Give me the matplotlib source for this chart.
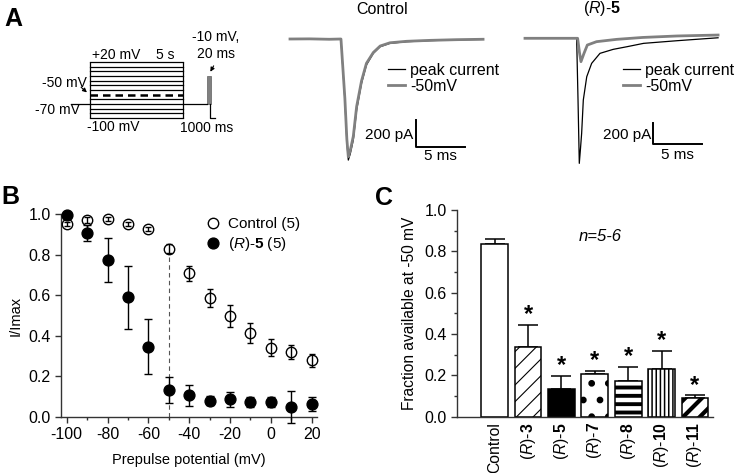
import matplotlib
matplotlib.use('Agg')
import matplotlib.pyplot as plt
from matplotlib.ticker import MultipleLocator, FormatStrFormatter
from matplotlib.patches import Rectangle

plt.rcParams['font.family'] = ['Liberation Sans', 'DejaVu Sans']
plt.rcParams['mathtext.fontset'] = 'custom'
plt.rcParams['mathtext.rm'] = 'Liberation Sans'
plt.rcParams['mathtext.it'] = 'Liberation Sans:italic'
plt.rcParams['mathtext.bf'] = 'Liberation Sans:bold'
plt.rcParams['axes.unicode_minus'] = False

# ---- panel A: protocol ----
prepulse_mV = [-100, -90, -80, -70, -60, -50, -40, -30, -20, -10, 0, 10, 20]
holding_mV = -70
test_mV = -10

# ---- panel A: current traces (ms, pA) ----
ctrl_t = [0, 2, 4, 5.2, 5.6, 5.8, 5.95, 6.15, 6.46, 6.8, 7.3, 7.8, 8.5, 9.2, 10.2, 11.9, 14.3, 17, 19.7]
ctrl_peak = [0, 2, -3, 0, -451, -760, -896, -850, -747, -525, -328, -192, -106, -57, -32, -20, -12, -6, -3]
ctrl_50 = [0, 1, -2, 0, -440, -740, -871, -825, -720, -500, -310, -180, -100, -52, -28, -17, -10, -5, -2]

r5_t_peak = [0, 3, 5.27, 5.41, 5.54, 5.66, 5.78, 5.95, 6.3, 6.8, 7.65, 9.0, 10.4, 12.1, 15.5, 19.7]
r5_peak = [0, 0, 0, -586, -1188, -1050, -903, -586, -365, -238, -143, -105, -80, -48, -23, 5]
r5_t_50 = [0, 3, 5.37, 5.55, 5.71, 6.02, 6.36, 7.3, 9.36, 12, 15.5, 19.7]
r5_50 = [0, 0, 0, -130, -222, -143, -64, -32, -10, 8, 22, 31]

# ---- panel B ----
prepulse = [-100, -90, -80, -70, -60, -50, -40, -30, -20, -10, 0, 10, 20]
ctrl = [0.952, 0.972, 0.977, 0.951, 0.928, 0.830, 0.708, 0.588, 0.497, 0.412, 0.341, 0.320, 0.280]
ctrl_err = [0.01, 0.015, 0.012, 0.01, 0.01, 0.022, 0.038, 0.045, 0.055, 0.05, 0.042, 0.035, 0.032]
r5 = [0.997, 0.906, 0.774, 0.590, 0.346, 0.132, 0.105, 0.079, 0.086, 0.071, 0.071, 0.049, 0.063]
r5_err = [0.0, 0.04, 0.11, 0.155, 0.137, 0.064, 0.052, 0.022, 0.037, 0.025, 0.025, 0.08, 0.036]

# ---- panel C ----
compounds = ['Control', r'($\it{R}$)-$\bf{3}$', r'($\it{R}$)-$\bf{5}$', r'($\it{R}$)-$\bf{7}$',
             r'($\it{R}$)-$\bf{8}$', r'($\it{R}$)-$\bf{10}$', r'($\it{R}$)-$\bf{11}$']
frac = [0.834, 0.339, 0.135, 0.206, 0.171, 0.232, 0.089]
frac_err = [0.027, 0.106, 0.063, 0.016, 0.068, 0.087, 0.014]
hatches = ['', '//', '', '.', '--', '||||', '//']
hatch_lw = [1, 0.8, 1, 2.4, 2.8, 1.1, 3.0]
fills = ['white', 'white', 'black', 'white', 'white', 'white', 'white']

W, H = 739, 473
fig = plt.figure(figsize=(W / 100, H / 100), dpi=100)


def px_axes(x0, y0, x1, y1):
    return fig.add_axes([x0 / W, 1 - y1 / H, (x1 - x0) / W, (y1 - y0) / H])


def px_text(x, y, s, **kw):
    fig.text(x / W, 1 - y / H, s, **kw)


px_text(4, 19, 'A', fontsize=18, fontweight='bold', va='center')
px_text(1, 197, 'B', fontsize=18, fontweight='bold', va='center')
px_text(375, 198, 'C', fontsize=18, fontweight='bold', va='center')

# protocol schematic
sch = px_axes(0, 20, 280, 140)
sch.set_xlim(0, 280)
sch.set_ylim(-147, 110)
sch.axis('off')
on, off = 90, 183
for v in prepulse_mV:
    if v == -50:
        sch.plot([on, off], [v, v], color='black', lw=1.8, ls=(0, (3, 2)))
    else:
        sch.plot([on, off], [v, v], color='black', lw=0.9)
sch.vlines([on, off], min(prepulse_mV), max(prepulse_mV), color='black', lw=0.9)
sch.plot([71, on], [holding_mV, holding_mV], color='black', lw=0.9)
sch.plot([off, 207], [holding_mV, holding_mV], color='black', lw=0.9)
sch.add_patch(Rectangle((207, holding_mV), 4, test_mV - holding_mV, fc='#808080', ec='#606060', lw=0.5))
sch.plot([210, 210, 215], [holding_mV, min(prepulse_mV), min(prepulse_mV)], color='black', lw=0.9)
fs = 10
sch.text(92, 35, '+20 mV', fontsize=fs, va='center')
sch.text(174, 35, '5 s', fontsize=fs, va='center', ha='right')
sch.text(87, -25, '-50 mV', fontsize=fs, va='center', ha='right')
sch.text(80, -83, '-70 mV', fontsize=fs, va='center', ha='right')
sch.text(87, -119, '-100 mV', fontsize=fs, va='center')
sch.text(192, 73, '-10 mV,', fontsize=fs, va='center')
sch.text(197, 37, '20 ms', fontsize=fs, va='center')
sch.text(180, -121, '1000 ms', fontsize=fs, va='center')
sch.annotate('', xy=(89, -49), xytext=(79, -30),
             arrowprops=dict(arrowstyle='-|>', lw=0.8, color='black', mutation_scale=6))
sch.annotate('', xy=(209, -6), xytext=(215, 17),
             arrowprops=dict(arrowstyle='-|>', lw=0.8, color='black', mutation_scale=6))


def trace_panel(ax, t_peak, i_peak, t_50, i_50, sb_t, sb_i):
    ax.plot(t_peak, i_peak, color='black', lw=0.9, label='peak current')
    ax.plot(t_50, i_50, color='#808080', lw=2.0, label='-50mV')
    ax.plot([sb_t, sb_t, sb_t + 5], [sb_i + 200, sb_i, sb_i], color='black', lw=1.4)
    ax.axis('off')
    ax.legend(frameon=False, loc='upper left', bbox_to_anchor=(0.5, 0.715), fontsize=11.5,
              handlelength=1.1, handletextpad=0.3, labelspacing=0.05, borderpad=0, borderaxespad=0)


# control traces
ax1 = px_axes(285, 20, 490, 170)
ax1.set_xlim(-5 / 9.8, 200 / 9.8)
ax1.set_ylim(-131 * 7.4, 19 * 7.4)
trace_panel(ax1, ctrl_t, ctrl_peak, ctrl_t, ctrl_50, 12.86, -799)
ax1.text(12.6, -710, '200 pA', ha='right', va='center', fontsize=11)
ax1.text(15.36, -866, '5 ms', ha='center', va='center', fontsize=11)
px_text(382, 9, 'Control', ha='center', va='center', fontsize=11.5)

ax2 = px_axes(520, 20, 725, 170)
ax2.set_xlim(-5 / 9.8, 200 / 9.8)
ax2.set_ylim(-131.7 * 9.5, 18.3 * 9.5)
trace_panel(ax2, r5_t_peak, r5_peak, r5_t_50, r5_50, 13.1, -1005)
ax2.text(12.9, -919, '200 pA', ha='right', va='center', fontsize=11)
ax2.text(15.6, -1108, '5 ms', ha='center', va='center', fontsize=11)
px_text(602, 9, r'($\it{R}$)-$\bf{5}$', ha='center', va='center', fontsize=11.5)

# ---- panel B ----
axb = px_axes(61, 214.3, 317, 416.7)
e1 = axb.errorbar(prepulse, ctrl, yerr=ctrl_err, fmt='o', mfc='none', mec='black', ms=7.5,
                  mew=1.0, color='black', ecolor='black', elinewidth=1.0, capsize=2.5, capthick=1.0,
                  clip_on=False, zorder=3)
e2 = axb.errorbar(prepulse, r5, yerr=r5_err, fmt='o', mfc='black', mec='black', ms=7.8,
                  color='black', ecolor='black', elinewidth=1.0, capsize=3, capthick=1.0,
                  clip_on=False, zorder=3)
for c in (e1, e2):
    for art in c.lines[1] + c.lines[2]:
        art.set_clip_on(False)
axb.vlines(-50, 0, ctrl[5] - ctrl_err[5], color='#555555', lw=0.8, ls=(0, (4, 3)))
axb.set_xlim(-102.8, 22.6)
axb.set_ylim(0, 1.0)
axb.xaxis.set_major_locator(MultipleLocator(20))
axb.xaxis.set_minor_locator(MultipleLocator(10))
axb.yaxis.set_major_locator(MultipleLocator(0.2))
axb.yaxis.set_major_formatter(FormatStrFormatter('%.1f'))
axb.set_xlabel('Prepulse potential (mV)', fontsize=10.5, labelpad=8)
axb.set_ylabel('I/Imax', fontsize=10.5, labelpad=4)
axb.legend([e1[0], e2[0]], ['Control (5)', r'($\it{R}$)-$\bf{5}$ (5)'], frameon=False, numpoints=1,
           loc='upper left', bbox_to_anchor=(0.563, 0.985), fontsize=11, handlelength=1.0,
           handletextpad=0.5, labelspacing=0.25, borderpad=0, borderaxespad=0)

# ---- panel C ----
axc = px_axes(457, 210, 713, 416.7)
pos = list(range(len(frac)))
bars = axc.bar(pos, frac, width=0.8, color=fills, edgecolor='black', linewidth=1.1, zorder=2)
for b, h, hl in zip(bars, hatches, hatch_lw):
    if h:
        b.set_hatch(h)
        try:
            b.set_hatch_linewidth(hl)
        except AttributeError:
            pass
axc.errorbar(pos, frac, yerr=[[0] * len(frac_err), frac_err], fmt='none', ecolor='black',
             elinewidth=1.1, capsize=7, capthick=1.1, zorder=1)
for x, f, e in zip(pos[1:], frac[1:], frac_err[1:]):
    axc.text(x, f + e + 0.05, '*', ha='center', va='center', fontsize=17, fontweight='bold')
axc.text(0.56, 0.87, 'n=5-6', transform=axc.transAxes, ha='center', va='center',
         fontsize=12, style='italic')
axc.set_xlim(-1.13, 6.54)
axc.set_ylim(0, 1.0)
axc.set_xticks(pos)
axc.set_xticklabels(compounds, rotation=90)
axc.yaxis.set_major_locator(MultipleLocator(0.2))
axc.yaxis.set_minor_locator(MultipleLocator(0.1))
axc.yaxis.set_major_formatter(FormatStrFormatter('%.1f'))
axc.set_ylabel('Fraction available at -50 mV', fontsize=11.2, labelpad=5)

for ax in (axb, axc):
    for s in ('top', 'right'):
        ax.spines[s].set_visible(False)
    for s in ('left', 'bottom'):
        ax.spines[s].set_linewidth(1.0)
        ax.spines[s].set_color('#333333')
    ax.tick_params(which='major', length=4, width=1.0, color='#333333', labelsize=11.5)
    ax.tick_params(which='minor', length=2.5, width=1.0, color='#333333')
axc.tick_params(axis='x', length=0, pad=4, labelsize=11.3)

fig.savefig('out.png', dpi=100)
